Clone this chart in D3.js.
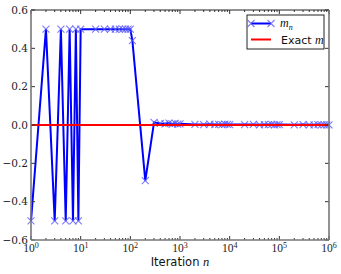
<!DOCTYPE html>
<html>
<head>
<meta charset="utf-8">
<script src="https://cdn.jsdelivr.net/npm/d3@7"></script>
<style>
  body { margin: 0; background: #fff; }
  svg { display: block; }
</style>
</head>
<body>
<svg id="chart"></svg>
<script>
// iterations and estimates
const iterations = [1, 2, 3, 4, 5, 6, 7, 8, 9, 10,
  20, 30, 40, 50, 60, 70, 80, 90, 100, 110,
  200, 300, 400, 500, 600, 700, 800, 900, 1000,
  2000, 3000, 4000, 5000, 6000, 7000, 8000, 9000, 10000,
  20000, 30000, 40000, 50000, 60000, 70000, 80000, 90000, 100000,
  200000, 300000, 400000, 500000, 600000, 700000, 800000, 900000, 1000000];
const mValues = [-0.5, 0.5, -0.5, 0.5, -0.5, 0.5, -0.5, 0.5, -0.5, 0.5,
  0.5, 0.5, 0.5, 0.5, 0.5, 0.5, 0.5, 0.5, 0.5, 0.44,
  -0.29, 0.014, 0.008, 0.006, 0.01, 0.005, 0.008, 0.004, 0.006,
  0.003, 0.002, 0.004, 0.002, 0.003, 0.002, 0.004, 0.003, 0.002,
  0.002, 0.003, 0.001, 0.002, 0.002, 0.003, 0.001, 0.002, 0.002,
  0.001, 0.002, 0.001, 0.001, 0.002, 0.001, 0.001, 0.001, 0.001];
const exactM = 0;
const yTicks = [-0.6, -0.4, -0.2, 0.0, 0.2, 0.4, 0.6];
const xTicks = [1, 10, 100, 1000, 10000, 100000, 1000000];
const seriesLabels = ["m_n", "Exact m"];

const width = 341;
const height = 274;
const margin = { left: 31, right: 12, top: 10, bottom: 34 };

const svg = d3.select("#chart")
  .attr("width", width)
  .attr("height", height);

const x = d3.scaleLog()
  .domain([1, 1e6])
  .range([margin.left, width - margin.right]);

const y = d3.scaleLinear()
  .domain([-0.6, 0.6])
  .range([height - margin.bottom, margin.top]);

const serif = "'Liberation Serif', 'DejaVu Serif', serif";
const sans = "'DejaVu Sans', sans-serif";

// data
const points = iterations.map((n, i) => [n, mValues[i]]);

const line = d3.line()
  .x(d => x(d[0]))
  .y(d => y(d[1]));

svg.append("path")
  .datum(points)
  .attr("d", line)
  .attr("fill", "none")
  .attr("stroke", "#0000ff")
  .attr("stroke-width", 2);

const cross = (g, s) => {
  g.append("path")
    .attr("d", `M${-s},${-s}L${s},${s}M${-s},${s}L${s},${-s}`)
    .attr("stroke", "#5a5aff")
    .attr("stroke-opacity", 0.8)
    .attr("stroke-width", 1.1)
    .attr("fill", "none");
};

svg.append("g")
  .selectAll("g")
  .data(points)
  .enter()
  .append("g")
  .attr("transform", d => `translate(${x(d[0])},${y(d[1])})`)
  .each(function () { cross(d3.select(this), 3.5); });

svg.append("line")
  .attr("x1", x(1))
  .attr("x2", x(1e6))
  .attr("y1", y(exactM))
  .attr("y2", y(exactM))
  .attr("stroke", "#ff0000")
  .attr("stroke-width", 2);

// frame
const [x0, x1] = x.range();
const [y0, y1] = y.range();

// minor ticks on log axis
const minor = [];
for (let e = 0; e < 6; e++) {
  [2, 3, 4, 5, 6, 7, 8, 9].forEach(k => minor.push(k * Math.pow(10, e)));
}

const ticks = svg.append("g").attr("stroke", "#333").attr("stroke-width", 1);
minor.forEach(v => {
  ticks.append("line").attr("x1", x(v)).attr("x2", x(v)).attr("y1", y0).attr("y2", y0 - 2);
  ticks.append("line").attr("x1", x(v)).attr("x2", x(v)).attr("y1", y1).attr("y2", y1 + 2);
});
xTicks.forEach(v => {
  ticks.append("line").attr("x1", x(v)).attr("x2", x(v)).attr("y1", y0).attr("y2", y0 - 4);
  ticks.append("line").attr("x1", x(v)).attr("x2", x(v)).attr("y1", y1).attr("y2", y1 + 4);
});
yTicks.forEach(v => {
  ticks.append("line").attr("x1", x0).attr("x2", x0 + 4).attr("y1", y(v)).attr("y2", y(v));
  ticks.append("line").attr("x1", x1).attr("x2", x1 - 4).attr("y1", y(v)).attr("y2", y(v));
});

svg.append("line").attr("x1", x0).attr("x2", x1).attr("y1", y1).attr("y2", y1)
  .attr("stroke", "#222").attr("stroke-width", 1);
svg.append("line").attr("x1", x0).attr("x2", x0).attr("y1", y1).attr("y2", y0)
  .attr("stroke", "#777").attr("stroke-width", 1.6);
svg.append("line").attr("x1", x1).attr("x2", x1).attr("y1", y1).attr("y2", y0)
  .attr("stroke", "#777").attr("stroke-width", 1.6);
svg.append("line").attr("x1", x0).attr("x2", x1).attr("y1", y0).attr("y2", y0)
  .attr("stroke", "#777").attr("stroke-width", 1.6);

// y tick labels
svg.append("g")
  .selectAll("text")
  .data(yTicks)
  .enter()
  .append("text")
  .attr("x", x0 - 3)
  .attr("y", d => y(d) + 3.5)
  .attr("text-anchor", "end")
  .attr("font-family", "'DejaVu Serif', serif")
  .attr("font-size", 10.5)
  .attr("fill", "#222")
  .text(d => d.toFixed(1).replace("-", "\u2212"));

// x tick labels 10^k
const xl = svg.append("g")
  .selectAll("text")
  .data(xTicks)
  .enter()
  .append("text")
  .attr("x", d => x(d))
  .attr("y", y0 + 12)
  .attr("text-anchor", "middle")
  .attr("font-family", serif)
  .attr("font-size", 11.5)
  .attr("fill", "#222");
xl.append("tspan").text("10");
xl.append("tspan")
  .attr("dy", -4.5)
  .attr("font-size", 8)
  .text(d => Math.round(Math.log10(d)));

// x axis title
const title = svg.append("text")
  .attr("x", (x0 + x1) / 2)
  .attr("y", 266)
  .attr("text-anchor", "middle")
  .attr("font-family", sans)
  .attr("font-size", 11.5)
  .attr("fill", "#111");
title.append("tspan").text("Iteration ");
title.append("tspan").attr("font-family", serif).attr("font-style", "italic").attr("font-size", 12.5).text("n");

// legend
const lg = svg.append("g").attr("transform", "translate(247,15)");
lg.append("rect")
  .attr("width", 77)
  .attr("height", 34)
  .attr("fill", "#fff")
  .attr("stroke", "#222")
  .attr("stroke-width", 1);

lg.append("line").attr("x1", 4).attr("x2", 24).attr("y1", 8.5).attr("y2", 8.5)
  .attr("stroke", "#0000ff").attr("stroke-width", 2);
[4, 24].forEach(px => {
  const g = lg.append("g").attr("transform", `translate(${px},8.5)`);
  cross(g, 3.5);
});
const t1 = lg.append("text")
  .attr("x", 33)
  .attr("y", 12)
  .attr("font-family", serif)
  .attr("font-style", "italic")
  .attr("font-size", 12)
  .attr("fill", "#111");
t1.append("tspan").text(seriesLabels[0].split("_")[0]);
t1.append("tspan").attr("dy", 2.5).attr("font-size", 8).text(seriesLabels[0].split("_")[1]);

lg.append("line").attr("x1", 4).attr("x2", 24).attr("y1", 24.5).attr("y2", 24.5)
  .attr("stroke", "#ff0000").attr("stroke-width", 2);
const t2 = lg.append("text")
  .attr("x", 34)
  .attr("y", 28.5)
  .attr("font-family", sans)
  .attr("font-size", 11)
  .attr("fill", "#111");
t2.append("tspan").text(seriesLabels[1].split(" ")[0] + " ");
t2.append("tspan").attr("font-family", serif).attr("font-style", "italic").attr("font-size", 12).text(seriesLabels[1].split(" ")[1]);
</script>
</body>
</html>
